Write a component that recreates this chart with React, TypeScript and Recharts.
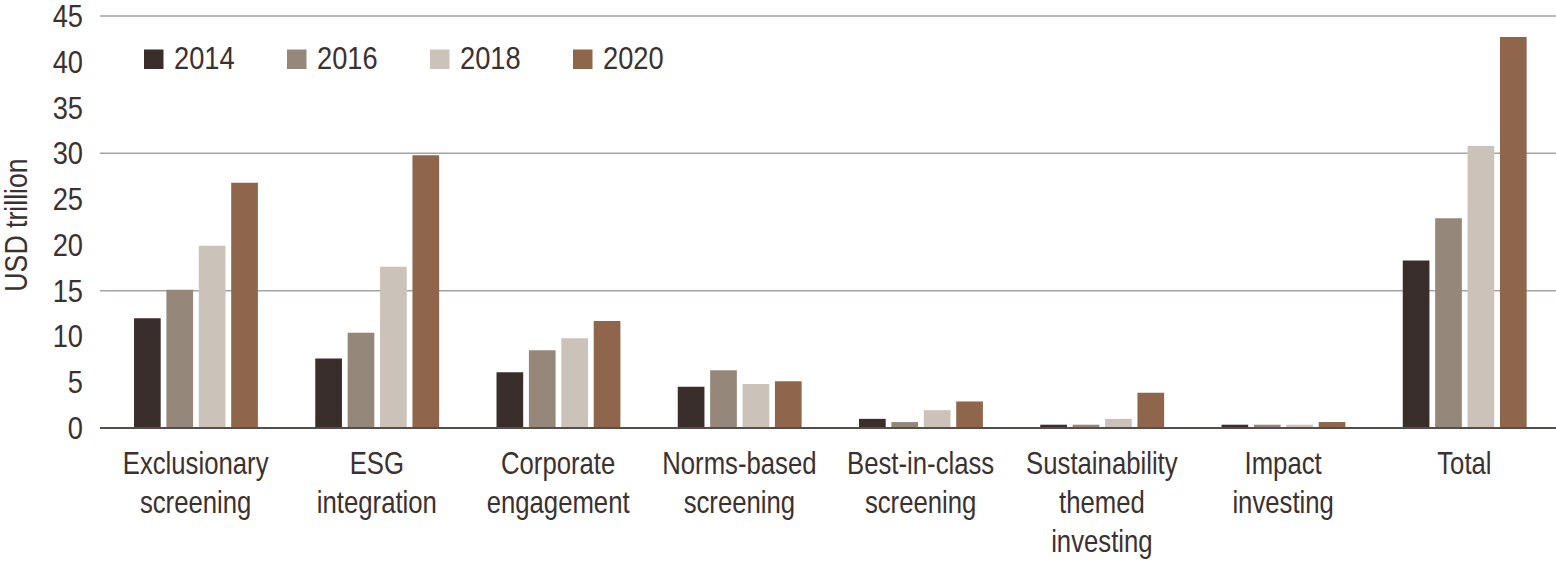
import React from 'react'
import { BarChart, Bar, XAxis, YAxis, CartesianGrid } from 'recharts'

const categories = [
  'Exclusionary\nscreening',
  'ESG\nintegration',
  'Corporate\nengagement',
  'Norms-based\nscreening',
  'Best-in-class\nscreening',
  'Sustainability\nthemed\ninvesting',
  'Impact\ninvesting',
  'Total',
]

const years = ['2014', '2016', '2018', '2020']
const colors = ['#3a2e2d', '#958779', '#cbc2ba', '#8f664c']

const values2014 = [12.0, 7.6, 6.1, 4.5, 1.0, 0.36, 0.36, 18.3]
const values2016 = [15.1, 10.4, 8.5, 6.3, 0.65, 0.36, 0.36, 22.9]
const values2018 = [19.9, 17.6, 9.8, 4.8, 1.95, 1.0, 0.36, 30.8]
const values2020 = [26.8, 29.8, 11.7, 5.1, 2.9, 3.85, 0.65, 42.7]

const yTicks = [0, 5, 10, 15, 20, 25, 30, 35, 40, 45]
const gridValues = [15, 30, 45]

const FONT = "'Liberation Sans', Arial, sans-serif"
const TEXT = '#3b3131'
const FS = 31

const data = categories.map((name, i) => ({
  name,
  y2014: values2014[i],
  y2016: values2016[i],
  y2018: values2018[i],
  y2020: values2020[i],
}))

// the source uses a condensed face, so squeeze Liberation Sans horizontally
function CategoryTick({ x, y, payload }: any) {
  const lines = String(payload.value).split('\n')
  return (
    <text
      transform={`translate(${x},${y}) scale(0.83,1)`}
      textAnchor="middle"
      fill={TEXT}
      fontSize={FS}
      fontFamily={FONT}
    >
      {lines.map((line, i) => (
        <tspan key={i} x={0} dy={i === 0 ? 38.5 : 38.7}>{line}</tspan>
      ))}
    </text>
  )
}

function ValueTick({ x, y, payload }: any) {
  return (
    <text
      transform={`translate(${x},${y}) scale(0.88,1)`}
      textAnchor="end"
      dy={11}
      fill={TEXT}
      fontSize={FS}
      fontFamily={FONT}
    >
      {payload.value}
    </text>
  )
}

function AxisTitle({ viewBox }: any) {
  const cy = viewBox.y + viewBox.height / 2 + 3
  return (
    <text
      transform={`translate(27,${cy}) rotate(-90) scale(0.86,1)`}
      textAnchor="middle"
      fill={TEXT}
      fontSize={FS}
      fontFamily={FONT}
    >
      USD trillion
    </text>
  )
}

function LegendOverlay() {
  return (
    <svg
      width={760}
      height={90}
      style={{ position: 'absolute', left: 0, top: 0, pointerEvents: 'none' }}
    >
      {years.map((yr, i) => (
        <g key={yr} transform={`translate(${144 + i * 143},0)`}>
          <rect x={0} y={49.5} width={19.5} height={19.5} fill={colors[i]} />
          <text
            transform="translate(30,69) scale(0.88,1)"
            fill={TEXT}
            fontSize={FS}
            fontFamily={FONT}
          >
            {yr}
          </text>
        </g>
      ))}
    </svg>
  )
}

export default function App() {
  return (
    <div style={{ position: 'absolute', left: 0, top: 0, width: 1556, height: 561, background: '#fff' }}>
      <BarChart
        width={1556}
        height={561}
        data={data}
        margin={{ top: 16, right: 0, bottom: 103, left: 0 }}
        barGap={5.7}
        barSize={26.7}
      >
        <CartesianGrid
          vertical={false}
          horizontalValues={gridValues}
          stroke="#a6a3a1"
          strokeWidth={1.5}
        />
        <XAxis
          dataKey="name"
          interval={0}
          padding={{ left: 5, right: 1 }}
          tick={<CategoryTick />}
          tickLine={false}
          axisLine={{ stroke: '#574d4b', strokeWidth: 2 }}
        />
        <YAxis
          width={100}
          domain={[0, 45]}
          ticks={yTicks}
          interval={0}
          axisLine={false}
          tickLine={false}
          tickMargin={11}
          tick={<ValueTick />}
          label={{ content: <AxisTitle /> }}
        />
        {years.map((yr, i) => (
          <Bar key={yr} dataKey={'y' + yr} name={yr} fill={colors[i]} isAnimationActive={false} />
        ))}
      </BarChart>
      <LegendOverlay />
    </div>
  )
}
